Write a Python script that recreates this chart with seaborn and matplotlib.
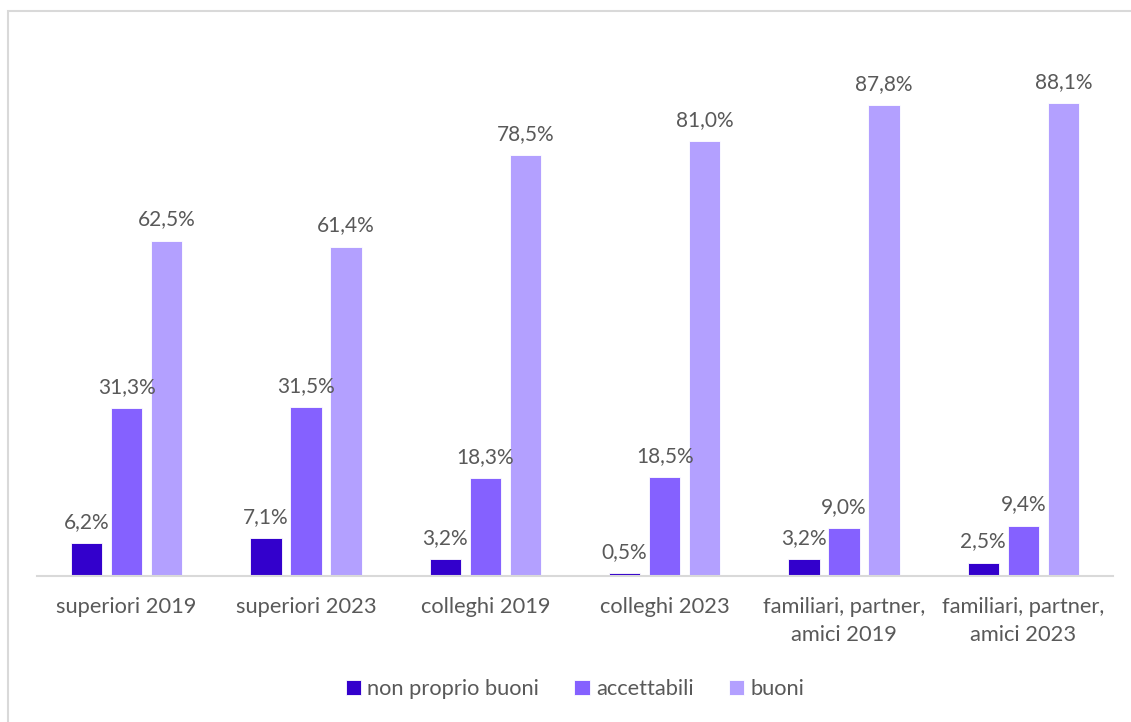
import matplotlib
matplotlib.use("Agg")
import matplotlib.pyplot as plt
from matplotlib.patches import Rectangle
import seaborn as sns
import pandas as pd

categories = [
    "superiori 2019",
    "superiori 2023",
    "colleghi 2019",
    "colleghi 2023",
    "familiari, partner,\namici 2019",
    "familiari, partner,\namici 2023",
]
series_names = ["non proprio buoni", "accettabili", "buoni"]
non_proprio_buoni = [6.2, 7.1, 3.2, 0.5, 3.2, 2.5]
accettabili = [31.3, 31.5, 18.3, 18.5, 9.0, 9.4]
buoni = [62.5, 61.4, 78.5, 81.0, 87.8, 88.1]

colors = ["#3300CC", "#8561FF", "#B3A0FF"]
text_color = "#595959"
grid_color = "#D9D9D9"

rows = []
for name, values in zip(series_names, [non_proprio_buoni, accettabili, buoni]):
    for cat, v in zip(categories, values):
        rows.append({"categoria": cat, "giudizio": name, "valore": v})
df = pd.DataFrame(rows)

sns.set_theme(style="white")
plt.rcParams["font.family"] = ["Lato", "DejaVu Sans"]

fig = plt.figure(figsize=(11.31, 7.22), dpi=100)
ax = fig.add_axes([37 / 1131, 1 - 576 / 722, (1113 - 37) / 1131, 536.6 / 722])

sns.barplot(
    data=df, x="categoria", y="valore", hue="giudizio",
    order=categories, hue_order=series_names, palette=colors,
    width=0.67, gap=0.22, saturation=1, errorbar=None,
    edgecolor="white", linewidth=0.6, ax=ax,
)

ax.set_ylim(0, 100)
ax.set_xlim(-0.5, len(categories) - 0.5)
ax.set_xlabel("")
ax.set_ylabel("")
ax.set_yticks([])
for side in ["left", "right", "top"]:
    ax.spines[side].set_visible(False)
ax.spines["bottom"].set_color(grid_color)
ax.spines["bottom"].set_linewidth(1.5)
ax.tick_params(axis="x", length=0, pad=15, labelsize=15.75, colors=text_color)
for lbl in ax.get_xticklabels():
    lbl.set_linespacing(1.5)

for container in ax.containers:
    labels = [f"{b.get_height():.1f}".replace(".", ",") + "%" for b in container]
    ax.bar_label(container, labels=labels, padding=8, fontsize=15, color=text_color)

handles, labels = ax.get_legend_handles_labels()
ax.legend(
    handles, labels, loc="center", bbox_to_anchor=(0.5, (689 - 576) / -536.6),
    ncol=3, frameon=False, fontsize=15.75, labelcolor=text_color,
    handlelength=0.7, handleheight=0.7, handletextpad=0.3, columnspacing=1.6,
)

# outer chart frame
fig.patches.append(Rectangle(
    (7.5 / 1131, -0.05), 1.1, 1 - 10.5 / 722 + 0.05,
    transform=fig.transFigure, fill=False, edgecolor=grid_color, linewidth=1.5,
))

fig.savefig("out.png", dpi=100)
